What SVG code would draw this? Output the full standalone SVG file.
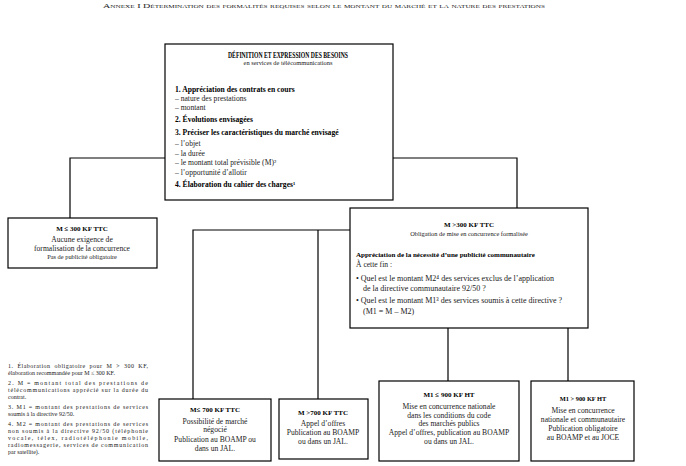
<svg xmlns="http://www.w3.org/2000/svg" width="686" height="466" viewBox="0 0 686 466">
<style>
text{font-family:"Liberation Serif","DejaVu Serif",serif;fill:#1a1a1a;font-size:7.6px}
.b{font-weight:bold;fill:#000}
.h{font-weight:bold;font-size:7px;fill:#000}
.c{text-anchor:middle}
.s{font-size:6.4px}
.fn{font-size:6px}
.box{fill:#fff;stroke:#000;stroke-width:1.2}
.ln{stroke:#000;stroke-width:1.2;fill:none}
</style>
<rect width="686" height="466" fill="#fff"/>
<text x="103" y="8" style="font-variant:small-caps;font-size:7px" textLength="442" lengthAdjust="spacingAndGlyphs">Annexe I  Détermination des formalités requises selon le montant du marché et la nature des prestations</text>
<g id="connectors">
<path class="ln" d="M70 218 V158 H165 M393 158 H517 V208"/>
<path class="ln" d="M350 230 H193 V399 M318 230 V399"/>
<path class="ln" d="M448 328 V381 M568 328 V381"/>
</g>
<g id="besoins">
<rect class="box" x="165" y="44" width="228" height="156"/>
<text class="h c" x="288" y="58" style="font-size:7.8px" textLength="120" lengthAdjust="spacingAndGlyphs">DÉFINITION ET EXPRESSION DES BESOINS</text>
<text class="c s" x="288" y="65">en services de télécommunications</text>
<text class="b" x="175" y="92">1.  Appréciation des contrats en cours</text>
<text x="175" y="101">– nature des prestations</text>
<text x="175" y="110">– montant</text>
<text class="b" x="175" y="122">2. Évolutions envisagées</text>
<text class="b" x="175" y="135">3. Préciser les caractéristiques du marché envisagé</text>
<text x="175" y="146">– l’objet</text>
<text x="175" y="156">– la durée</text>
<text x="175" y="165">– le montant total prévisible (M)²</text>
<text x="175" y="175">– l’opportunité d’allotir</text>
<text class="b" x="175" y="187">4.  Élaboration du cahier des charges¹</text>
</g>
<g id="m300moins">
<rect class="box" x="8" y="218" width="149" height="50"/>
<text class="h c" x="82" y="231">M ≤ 300 KF TTC</text>
<text class="c" x="82" y="242">Aucune exigence de</text>
<text class="c" x="82" y="251">formalisation de la concurrence</text>
<text class="c s" x="82" y="259">Pas de publicité obligatoire</text>
</g>
<g id="m300plus">
<rect class="box" x="350" y="208" width="238" height="120"/>
<text class="h c" x="469" y="227">M &gt;300 KF TTC</text>
<text class="c s" x="469" y="236">Obligation de mise en concurrence formalisée</text>
<text class="b" x="356" y="257" style="font-size:7px">Appréciation de la nécessité d’une publicité communautaire</text>
<text x="356" y="267">À cette fin :</text>
<text x="356" y="281" style="font-size:8px">• Quel est le montant M2⁴ des services exclus de l’application</text>
<text x="363" y="291" style="font-size:8px">de la directive communautaire 92/50 ?</text>
<text x="356" y="303" style="font-size:8px">• Quel est le montant M1³ des services soumis à cette directive ?</text>
<text x="363" y="314" style="font-size:8px">(M1 = M – M2)</text>
</g>
<g id="m700moins">
<rect class="box" x="159" y="399" width="112" height="62"/>
<text class="h c" x="215" y="412">M≤ 700 KF TTC</text>
<text class="c" x="215" y="424">Possibilité de marché</text>
<text class="c" x="215" y="432">négocié</text>
<text class="c" x="215" y="442">Publication au BOAMP ou</text>
<text class="c" x="215" y="451">dans un JAL.</text>
</g>
<g id="m700plus">
<rect class="box" x="279" y="399" width="89" height="60"/>
<text class="h c" x="323" y="415">M &gt;700 KF TTC</text>
<text class="c" x="323" y="426">Appel d’offres</text>
<text class="c" x="323" y="435">Publication au BOAMP</text>
<text class="c" x="323" y="444">ou dans un JAL.</text>
</g>
<g id="m1900moins">
<rect class="box" x="379" y="381" width="140" height="80"/>
<text class="h c" x="449" y="397">M1 ≤ 900 KF HT</text>
<text class="c" x="449" y="409">Mise en concurrence nationale</text>
<text class="c" x="449" y="418">dans les conditions du code</text>
<text class="c" x="449" y="426">des marchés publics</text>
<text class="c" x="449" y="435">Appel d’offres, publication au BOAMP</text>
<text class="c" x="449" y="444">ou dans un JAL.</text>
</g>
<g id="m1900plus">
<rect class="box" x="531" y="381" width="103" height="80"/>
<text class="h c" x="583" y="401" style="font-size:6.4px">M1 &gt; 900 KF HT</text>
<text class="c" x="583" y="413">Mise en concurrence</text>
<text class="c" x="583" y="422">nationale et communautaire</text>
<text class="c" x="583" y="431">Publication obligatoire</text>
<text class="c" x="583" y="440">au BOAMP et au JOCE</text>
</g>
<g id="notes">
<text class="fn" x="8" y="368" textLength="140" lengthAdjust="spacing" word-spacing="2">1. Élaboration obligatoire pour M &gt; 300 KF,</text>
<text class="fn" x="8" y="375">élaboration recommandée pour M ≤ 300 KF.</text>
<text class="fn" x="8" y="385" textLength="140" lengthAdjust="spacing">2. M = montant total des prestations de</text>
<text class="fn" x="8" y="392" textLength="140" lengthAdjust="spacing">télécommunications apprécié sur la durée du</text>
<text class="fn" x="8" y="399">contrat.</text>
<text class="fn" x="8" y="409" textLength="140" lengthAdjust="spacing">3. M1 = montant des prestations de services</text>
<text class="fn" x="8" y="416">soumis à la directive 92/50.</text>
<text class="fn" x="8" y="426" textLength="140" lengthAdjust="spacing">4. M2 = montant des prestations de services</text>
<text class="fn" x="8" y="433" textLength="140" lengthAdjust="spacing">non soumis à la directive 92/50 (téléphonie</text>
<text class="fn" x="8" y="440" textLength="140" lengthAdjust="spacing">vocale, télex, radiotéléphonie mobile,</text>
<text class="fn" x="8" y="447" textLength="140" lengthAdjust="spacing">radiomessagerie, services de communication</text>
<text class="fn" x="8" y="454">par satellite).</text>
</g>
</svg>
